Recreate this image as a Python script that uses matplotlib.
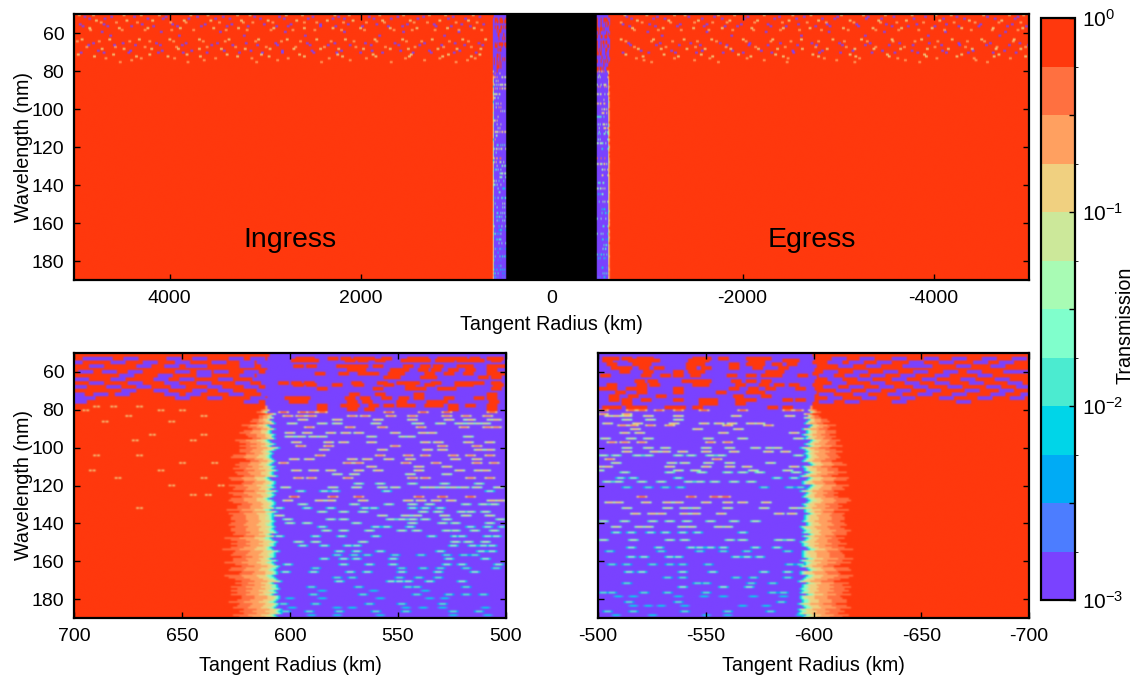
"""Ingress / egress transmission maps, tangent radius vs wavelength."""

import numpy as np
import matplotlib
matplotlib.use('Agg')
import matplotlib.pyplot as plt
from matplotlib.colors import BoundaryNorm, ListedColormap

plt.rcParams['font.family'] = ['Liberation Sans', 'DejaVu Sans']
plt.rcParams['mathtext.fontset'] = 'custom'
plt.rcParams['mathtext.rm'] = 'Liberation Sans'
plt.rcParams['mathtext.it'] = 'Liberation Sans'
plt.rcParams['mathtext.default'] = 'regular'
plt.rcParams['axes.unicode_minus'] = False

colors = ['#7A42FF', '#4C7DFF', '#00ABF5', '#00D5E8', '#4BEBD0', '#80FFCC',
          '#A8FBB4', '#CCE89A', '#F0D080', '#FFA060', '#FF7040', '#FF380D']
log_bounds = [-3, -2.75, -2.5, -2.25, -2, -1.75, -1.5, -1.25, -1, -0.75, -0.5, -0.25, 0]
wave_ticks = [60, 80, 100, 120, 140, 160, 180]

# limb edge per 2 nm row, 50..190 nm (purple inside edge, red beyond outer)
ing_edge = [610, 611, 610, 612, 611, 610, 612, 611, 610, 611, 612, 611, 612,
            612, 611, 610, 609, 609, 608, 609, 609, 608, 608, 609, 608, 607, 609, 608, 609,
            608, 608, 607, 608, 609, 608, 607, 608, 608, 609, 607, 608, 608, 607, 608, 609,
            607, 608, 607, 608, 608, 607, 608, 607, 607, 608, 607, 607, 606, 607, 607, 606,
            607, 606, 606, 607, 606, 606, 606, 605, 606, 606]
ing_outer = [610, 611, 610, 612, 611, 610, 612, 611, 610, 611, 612, 611, 612,
             612, 612, 613, 615, 616, 618, 620, 621, 622, 620, 623, 622, 624, 623, 625, 622,
             624, 626, 623, 625, 627, 624, 626, 625, 628, 625, 627, 624, 628, 626, 627, 629,
             626, 628, 627, 625, 628, 627, 626, 629, 627, 625, 628, 626, 627, 625, 628, 626,
             624, 627, 625, 626, 624, 626, 625, 623, 625, 624]
egr_edge = [-600, -601, -600, -602, -601, -600, -602, -601, -600, -601, -602, -601, -601,
            -600, -599, -598, -598, -597, -597, -598, -597, -596, -597, -598, -597, -596, -597, -596,
            -597, -598, -596, -597, -596, -597, -596, -598, -596, -597, -596, -597, -596, -595, -597,
            -596, -597, -596, -595, -596, -597, -596, -595, -596, -597, -595, -596, -595, -596, -597,
            -595, -596, -595, -596, -595, -594, -596, -595, -594, -595, -594, -595, -595]
egr_outer = [-600, -601, -600, -602, -601, -600, -602, -601, -600, -601, -602, -601, -601,
             -600, -600, -601, -603, -605, -607, -608, -610, -609, -611, -610, -612, -611, -613, -610,
             -612, -614, -611, -613, -612, -615, -612, -614, -613, -611, -614, -616, -613, -615, -612,
             -614, -616, -613, -615, -617, -614, -612, -615, -613, -616, -614, -617, -615, -613, -616,
             -614, -616, -613, -615, -617, -614, -616, -615, -613, -616, -614, -615, -614]
# row by row wobble of the limb, 50..190 nm
row_jag = [0, 1, -1, 2, 0, -2, 1, 3, -1, 0, 2, -3, 1, -1, 0, 2, -2, 3, 1, -1, -3, 2, 0, 1, -2, 3, -1, 0,
           2, -2, 1, 3, -3, 0, -1, 2, 1, -2, 3, 0, -3, 1, 2, -1, 0, -2, 3, 1, -1, 2, -3, 0, 1, -2, 2,
           3, -1, -3, 0, 2, -2, 1, -1, 3, 0, -3, 2, 1, -2, -1, 3, 0, 2, -3, 1, -1, -2, 3, 2, 0, -1, 1,
           -3, 2, -2, 3, 0, 1, -1, -3, 2, 3, -2, 0, 1, -1, 2, -3, 3, 0, -2, 1, -1, 2, 3, -3, 0, 1, -2,
           2, -1, 3, 0, -3, 1, 2, -2, -1, 3, 1, 0, -3, 2, -1, 1, -2, 3, 0, 2, -3, -1, 1, 3, -2, 0, 2,
           -1, 1, -3, 2, 0]
band_stop = [0.06, 0.12, 0.18, 0.36, 0.66, 1.0]
band_level = [3, 5, 7, 8, 9, 10]

# speckles in the lower panels: row wavelength, colour level, radii
ing_spk_nm = [52, 53, 56, 58, 60, 62, 65, 66, 68, 71, 73, 75, 77, 79, 81, 83, 85, 87, 89, 92, 94, 97, 99,
              101, 104, 106, 108, 110, 112, 114, 116, 119, 121, 123, 126, 128, 130, 132, 134, 136, 138,
              140, 142, 144, 147, 150, 152, 155, 157, 159, 162, 164, 166, 169, 171, 174, 176, 178, 180,
              183, 185, 187, 189]
ing_spk_lvl = [11, 11, 11, 11, 11, 11, 11, 11, 11, 11, 11, 11, 11, 11, 10, 9, 8, 7, 9, 8, 7, 8, 9,
               8, 9, 8, 9, 8, 8, 7, 9, 6, 7, 5, 10, 8, 6, 5, 6, 7, 6, 6, 5, 6, 5, 6, 5, 5, 4, 5, 5, 4,
               5, 4, 5, 4, 3, 4, 3, 4, 3, 4, 3]
ing_spk_km = [
    [595, 591, 580, 574, 568, 563, 555, 543, 538, 529, 524, 520, 514, 506, 503],
    [597, 592, 589, 572, 566, 558, 546, 541, 537, 530, 526, 520, 516, 512, 504],
    [596, 590, 576, 571, 566, 559, 545, 537, 531, 520, 517, 506, 502],
    [571, 567, 551, 547, 538, 532, 524, 516, 506],
    [586, 575, 566, 561, 552, 549, 535, 526, 517, 506, 502],
    [554, 551, 537, 534, 510, 504],
    [603, 597, 591, 569, 557, 548, 545, 542, 532, 521, 517, 512, 504],
    [596, 590, 578, 568, 554, 544, 535, 521, 517, 503],
    [585, 559, 544, 539, 529, 525, 504],
    [570, 558, 540, 506],
    [601, 597, 593, 572, 565, 555, 547, 540, 526, 512, 506],
    [600, 595, 594, 571, 564, 548, 534, 529, 505],
    [585, 574, 570, 561, 554, 548, 544, 535, 531, 524, 516, 506],
    [585, 571, 563, 524, 506],
    [603, 594, 590, 585, 554, 538, 527, 506],
    [601, 595, 590, 571, 565, 553, 543, 527, 518, 508],
    [594, 578, 559, 543, 526, 517, 516, 506, 504],
    [599, 585, 578, 560, 541, 540, 530, 521, 516, 512, 509],
    [591, 572, 557, 539, 519, 508, 504],
    [600, 592, 581, 574, 568, 551, 538, 534],
    [600, 595, 589, 585, 562, 547, 544, 517],
    [597, 582, 575, 562, 537, 531, 517, 507],
    [595, 582, 551, 529, 513],
    [584, 557, 536, 529, 512, 507],
    [586, 558, 545, 537, 524, 516, 507],
    [598, 591, 571, 564, 554, 544, 523, 513],
    [603, 573, 568, 546, 532, 513, 505],
    [562, 540, 527],
    [597, 589, 581, 568, 559, 540, 521, 512, 509],
    [578, 570, 544, 527],
    [596, 590, 573, 543, 537, 516, 507],
    [568, 558, 543, 528, 512],
    [602, 580, 569, 557, 551, 537, 534, 529, 524, 519, 513, 503],
    [595, 584, 579, 555, 507],
    [598, 580, 568, 540, 529, 516],
    [601, 586, 581, 566, 545, 539, 532, 525, 506, 502],
    [594, 570, 554, 543, 535, 518, 510, 505],
    [605, 592, 581, 565, 561, 543, 537, 530],
    [585, 575, 566, 538, 531, 520, 516, 509],
    [605, 557, 546, 541, 528, 518, 507],
    [601, 581, 575, 553, 548, 543, 537, 527, 502],
    [600, 592, 569, 543, 529, 523, 507],
    [585, 560, 555, 544, 516, 508, 501],
    [583, 575, 563, 548, 541, 527, 523, 514, 505],
    [605, 588, 576, 560, 534, 523, 520, 508, 504],
    [596, 588, 566, 523, 517, 509],
    [594, 584, 573, 569, 524, 515, 510, 506],
    [577, 569, 558, 530, 511, 506],
    [578, 570, 564, 551, 539, 527, 519, 514],
    [584, 575, 569, 552, 526, 509],
    [601, 575, 563, 552, 527, 520, 503],
    [588, 548, 538, 530, 518, 504],
    [602, 589, 572, 564, 548, 531, 514],
    [578, 571, 549, 540, 531],
    [577, 553, 549, 545, 535, 520],
    [590, 568, 545, 541, 518],
    [585, 561, 537],
    [589, 566, 541, 526, 518, 510],
    [600, 585, 558, 535, 528],
    [603, 588, 563, 548, 529],
    [599, 578, 571, 546, 538, 529, 509],
    [602, 591, 577, 560, 546, 524, 512],
    [590, 578, 558, 524, 508],
]
egr_spk_nm = [52, 53, 55, 57, 59, 61, 64, 66, 68, 70, 72, 74, 76, 78, 80, 82, 83, 85, 87, 88, 90, 92, 95, 97,
              100, 102, 104, 106, 108, 110, 112, 113, 116, 118, 121, 126, 129, 132, 135, 139, 142, 145, 149,
              153, 155, 158, 162, 166, 169, 172, 174, 177, 179, 182, 184, 187, 189]
egr_spk_lvl = [11, 11, 11, 11, 11, 11, 11, 11, 11, 11, 11, 11, 11, 11, 10, 9, 8, 7, 8, 9, 8, 8, 7, 9,
               7, 8, 6, 9, 7, 8, 7, 6, 5, 6, 4, 10, 8, 7, 8, 6, 7, 5, 6, 5, 4, 5, 4, 5, 4, 4, 5, 4, 3,
               4, 3, 4, 3]
egr_spk_km = [
    [-504, -507, -513, -520, -523, -546, -550, -558, -571, -574, -578],
    [-504, -516, -521, -526, -544, -549, -572, -575, -588, -591],
    [-506, -518, -522, -543, -547, -563, -571, -575, -583, -590],
    [-508, -513, -521, -528, -543, -550, -563, -574, -586],
    [-512, -523, -537, -544, -547, -580, -584],
    [-503, -522, -531, -537, -545, -562, -571, -578, -583, -595],
    [-519, -525, -541, -546, -550, -564, -571, -578],
    [-506, -520, -526, -546, -549, -566, -577, -584, -591],
    [-502, -506, -515, -520, -537, -563, -572, -580, -594],
    [-510, -520, -537, -557, -571, -575],
    [-507, -516, -529, -565, -578],
    [-507, -513, -522, -537, -549, -553, -566, -571, -588, -594],
    [-513, -549, -553, -566],
    [-504, -508, -515, -520, -533, -538, -546, -581, -588],
    [-502, -515, -520, -528, -537, -549, -567, -588, -593],
    [-502, -513],
    [-505, -508, -513, -523, -537, -564, -589],
    [-513, -524, -537],
    [-504, -518, -535, -549, -556, -562, -571, -575],
    [-511, -516, -524, -533, -560, -579],
    [-517, -546, -565],
    [-512, -519, -558, -591],
    [-503, -515, -523, -551, -567, -593],
    [-506, -512, -520, -552, -560],
    [-513, -523, -531, -550, -561, -573, -580, -583],
    [-513, -526, -531, -539, -550, -563, -579, -587],
    [-502, -508, -518, -523, -537, -543, -557, -552, -593],
    [-505, -555],
    [-508, -534, -540, -551, -561, -580],
    [-501, -504, -533, -550, -561, -569, -591],
    [-500, -537, -545, -572, -588],
    [-512, -533, -548, -560, -567, -575, -592],
    [-510, -516, -537, -583, -591],
    [-504, -509, -520, -529, -542, -547, -554, -563, -571],
    [-513, -523, -531, -538, -577, -589, -594],
    [-520, -543, -554, -559],
    [-505, -509, -522, -532, -537, -550, -560, -567, -578],
    [-513, -532, -540, -545, -560, -577, -591],
    [-517, -525, -529, -540, -545, -557, -584, -590],
    [-502, -512, -525, -533, -541, -552, -563, -573],
    [-508, -519, -523, -539, -543, -556, -560],
    [-508, -515, -524, -531, -539, -546, -567],
    [-502, -516, -533, -540, -561, -567, -584, -589],
    [-515, -528, -543, -547, -552, -558, -573, -583],
    [-505, -529, -547, -558, -569, -588],
    [-515, -521, -533, -537, -564, -575, -569],
    [-506, -513, -525, -533, -539, -551, -589, -594],
    [-514, -520, -539, -553, -577, -588],
    [-532, -539, -564, -572, -588],
    [-513, -546, -550, -571, -581],
    [-539, -558, -570],
    [-502, -506, -521, -532, -550, -581, -586],
    [-509, -516, -537, -549, -558, -572, -586],
    [-514, -537, -585],
    [-516, -529, -540, -523, -567, -578],
    [-504, -516, -540, -560, -580],
    [-508, -525, -550, -560, -594],
]

# purple gaps in the red part above 76 nm
gap_nm = [52, 54, 56, 59, 61, 63, 65, 67, 69, 71, 73, 75]
ing_gap_km = [
    [693, 686, 674, 654, 642, 625, 615], [700, 680, 665, 650, 633, 620, 612],
    [690, 668, 655, 645, 642, 620, 610], [695, 684, 672, 650, 640, 632, 618, 608],
    [676, 658, 640, 620, 612, 606], [697, 680, 660, 648, 630, 614, 606],
    [690, 672, 655, 640, 622, 610], [698, 682, 668, 652, 635, 618, 608],
    [675, 660, 642, 630, 612], [699, 688, 678, 655, 645, 625, 610],
    [699, 694, 650, 635, 615, 606], [698, 618, 604],
]
egr_gap_km = [
    [-612, -625, -640, -655, -668, -682, -696], [-610, -620, -633, -648, -662, -678, -690],
    [-615, -628, -645, -652, -670, -686], [-608, -622, -636, -650, -664, -675, -692, -699],
    [-606, -618, -630, -644, -660, -680], [-610, -624, -640, -654, -672, -688],
    [-612, -630, -646, -660, -676, -694], [-608, -620, -634, -650, -666, -684, -698],
    [-614, -628, -642, -656, -674, -690], [-606, -622, -638, -652, -668, -686, -700],
    [-610, -626, -644, -662, -680, -695], [-606, -618, -640, -670],
]

# faint dashes inside the red area of the ingress panel
faint_nm = [78, 80, 83, 86, 93, 96, 104, 108, 112, 116, 120, 125, 132]
faint_km = [[690, 682, 670], [695, 660, 650], [675, 640], [686, 655], [664, 640], [672, 645],
            [670, 690], [650, 635], [692, 660], [680, 640], [655, 632], [645, 638], [670]]

# dots above 76 nm in the wide panel
dot_nm = [51, 53, 55, 57, 59, 63, 65, 67, 69, 71, 73, 75,
          50, 52, 54, 56, 58, 61, 64, 66, 68, 70, 72, 74]
dot_lvl = [0, 8, 0, 8, 0, 8, 0, 9, 0, 8, 9, 9,
           8, 0, 9, 0, 9, 0, 9, 0, 8, 0, 8, 9]
dot_km = [
    [4900, 4620, 4380, 4050, 3720, 3450, 3120, 2860, 2510, 2240, 1920, 1620, 1350, 1040, 760,
     -780, -1100, -1430, -1700, -2050, -2380, -2640, -2990, -3310, -3580, -3910, -4240, -4560, -4880],
    [4780, 4460, 4190, 3860, 3580, 3260, 2980, 2680, 2360, 2090, 1780, 1490, 1180, 880,
     -890, -1220, -1530, -1860, -2150, -2480, -2790, -3120, -3420, -3710, -4060, -4370, -4710],
    [4950, 4700, 4300, 3980, 3640, 3360, 3020, 2740, 2430, 2140, 1840, 1520, 1240, 950, 720,
     -740, -1020, -1340, -1620, -1980, -2260, -2580, -2880, -3190, -3500, -3820, -4130, -4490, -4820],
    [4850, 4540, 4240, 3900, 3550, 3290, 2920, 2600, 2300, 2010, 1700, 1420, 1100, 820,
     -840, -1160, -1480, -1780, -2090, -2420, -2700, -3050, -3360, -3660, -3980, -4290, -4620, -4930],
    [4720, 4100, 3480, 2800, 2180, 1560, 980, -1000, -1620, -2240, -2900, -3480, -4120, -4750],
    [4930, 4640, 4330, 4010, 3700, 3390, 3080, 2780, 2470, 2170, 1860, 1570, 1260, 940, 700,
     -720, -1060, -1380, -1670, -2000, -2310, -2610, -2940, -3240, -3560, -3870, -4190, -4500, -4840],
    [4810, 4500, 4150, 3840, 3510, 3210, 2900, 2570, 2280, 1960, 1650, 1340, 1020, 770,
     -800, -1130, -1450, -1760, -2070, -2390, -2720, -3010, -3330, -3640, -3950, -4260, -4590, -4900],
    [4880, 4580, 4270, 3940, 3620, 3320, 3000, 2690, 2390, 2060, 1750, 1440, 1140, 850,
     -860, -1190, -1500, -1820, -2130, -2440, -2760, -3080, -3390, -3690, -4010, -4330, -4660, -4960],
    [4760, 4420, 4090, 3780, 3440, 3160, 2830, 2520, 2210, 1890, 1590, 1290, 970,
     -930, -1250, -1570, -1890, -2190, -2520, -2830, -3150, -3460, -3770, -4090, -4410, -4740],
    [4970, 4600, 4220, 3830, 3410, 3050, 2650, 2250, 1880, 1480, 1090, 760,
     -770, -1170, -1560, -1950, -2340, -2730, -3120, -3510, -3900, -4290, -4680],
    [4680, 4310, 3960, 3530, 3150, 2770, 2340, 1950, 1540, 1180, 810,
     -880, -1280, -1650, -2040, -2470, -2850, -3220, -3620, -4030, -4420, -4800],
    [4530, 3820, 3100, 2420, 1690, 1010, -1040, -1740, -2460, -3170, -3850, -4560],
    [4960, 4810, 4490, 4310, 4120, 3790, 3610, 3300, 3170, 2790, 2620, 2280, 2130, 1810, 1560, 1290, 1120, 830,
     -760, -990, -1280, -1390, -1740, -1910, -2220, -2520, -2710, -3030, -3260, -3490, -3770, -4020, -4180, -4520, -4790, -4940],
    [4850, 4690, 4240, 4080, 3810, 3530, 3380, 3060, 2810, 2560, 2300, 2180, 1870, 1690, 1410, 1090, 910,
     -830, -1060, -1180, -1570, -1780, -2010, -2330, -2560, -2830, -2960, -3290, -3450, -3790, -4100, -4320, -4640, -4850],
    [4730, 4570, 4350, 4000, 3840, 3490, 3240, 3140, 2930, 2600, 2470, 2190, 1950, 1760, 1450, 1310, 1010, 790,
     -720, -940, -1240, -1490, -1680, -1830, -2120, -2410, -2670, -2870, -3160, -3440, -3610, -3890, -4210, -4430, -4680, -4910],
    [4920, 4660, 4410, 4180, 3930, 3680, 3410, 3190, 2890, 2770, 2430, 2270, 1990, 1720, 1570, 1220, 1060, 860,
     -810, -1080, -1310, -1590, -1810, -1940, -2290, -2450, -2760, -2910, -3210, -3560, -3730, -4010, -4260, -4470, -4770, -4970],
    [4840, 4510, 4270, 3990, 3760, 3420, 3200, 2950, 2720, 2490, 2210, 1970, 1660, 1470, 1230, 980, 740,
     -860, -1110, -1350, -1640, -1890, -2110, -2390, -2590, -2820, -3100, -3390, -3630, -3840, -4110, -4390, -4610, -4880],
    [4630, 3910, 3230, 2590, 1810, 1130, -1150, -1880, -2610, -3280, -3940, -4690],
    [4980, 4750, 4430, 4220, 3970, 3660, 3430, 3110, 2840, 2640, 2320, 2080, 1840, 1530, 1370, 1080, 880,
     -770, -1040, -1260, -1520, -1720, -2030, -2290, -2500, -2790, -3060, -3300, -3570, -3800, -4040, -4350, -4530, -4830],
    [4860, 4590, 4370, 4110, 3880, 3570, 3350, 3090, 2880, 2540, 2350, 2120, 1900, 1610, 1390, 1160, 920, 730,
     -820, -1090, -1330, -1550, -1830, -2060, -2260, -2570, -2770, -3040, -3280, -3530, -3780, -4080, -4270, -4550, -4790, -4990],
    [4720, 4490, 4200, 3920, 3700, 3470, 3220, 2960, 2710, 2430, 2240, 1980, 1700, 1510, 1200, 1000, 750,
     -900, -1140, -1410, -1600, -1870, -2160, -2360, -2620, -2880, -3170, -3370, -3650, -3930, -4150, -4400, -4650, -4910],
    [4940, 4700, 4440, 4130, 3870, 3620, 3280, 3040, 2830, 2500, 2260, 2010, 1780, 1460, 1270, 1030, 800,
     -740, -1010, -1290, -1510, -1790, -2000, -2300, -2530, -2800, -3020, -3350, -3590, -3830, -4130, -4360, -4620, -4860],
    [4800, 4360, 4030, 3690, 3300, 2970, 2600, 2200, 1850, 1500, 1150, 850,
     -950, -1320, -1680, -2080, -2420, -2790, -3180, -3530, -3920, -4240, -4630, -4960],
    [4410, 3650, 2880, 2120, 1340, 890, -960, -1490, -2220, -2980, -3700, -4440],
]

nm_axis = np.arange(50, 191)
radius_axis = np.arange(500, 701)
wide_axis = np.arange(5000, -5001, -10)


def level_value(level):
    return (log_bounds[level] + log_bounds[level + 1]) / 2


def paint_dashes(grid, rows_nm, levels, rows_km, half_width=2, height=1):
    for nm, level, row_km in zip(rows_nm, levels, rows_km):
        for km in row_km:
            i0 = max(abs(km) - 500 - half_width, 0)
            i1 = min(abs(km) - 500 + half_width + 1, 201)
            if 0 < level < 11:
                grid[nm - 50, i0:i1] = level_value(max(level - 2, 1))
                grid[nm - 50, i0 + 1:i1 - 1] = level_value(level)
            else:
                grid[nm - 50:nm - 50 + height, i0:i1] = level_value(level)


def limb_grid(edge, outer, spk_nm, spk_lvl, spk_km, gap_km):
    grid = np.full((len(nm_axis), len(radius_axis)), level_value(0))
    for i, nm in enumerate(nm_axis):
        e = abs(edge[(nm - 50) // 2])
        o = abs(outer[(nm - 50) // 2])
        if nm >= 80:
            e += row_jag[i] // 2
            o += row_jag[i]
        grid[i, o - 500:] = level_value(11)
        for j in range(e, o):
            frac = (j - e + 0.5) / (o - e)
            k = next(n for n, stop in enumerate(band_stop) if frac <= stop)
            grid[i, j - 500] = level_value(band_level[k])
    paint_dashes(grid, spk_nm, spk_lvl, spk_km, height=2)
    paint_dashes(grid, gap_nm, [0] * len(gap_nm), gap_km, half_width=3, height=2)
    return grid


ing_grid = limb_grid(ing_edge, ing_outer, ing_spk_nm, ing_spk_lvl, ing_spk_km, ing_gap_km)
egr_grid = limb_grid(egr_edge, egr_outer, egr_spk_nm, egr_spk_lvl, egr_spk_km, egr_gap_km)
paint_dashes(ing_grid, faint_nm, [10] * len(faint_nm), faint_km, half_width=1)

wide_grid = np.full((len(nm_axis), len(wide_axis)), level_value(11))
for nm, level, row_km in zip(dot_nm, dot_lvl, dot_km):
    for km in row_km:
        i = int((5000 - km) / 10)
        wide_grid[nm - 50, i:i + 3] = level_value(level)
for j, km in enumerate(wide_axis):
    r = abs(km)
    if r < 480:
        wide_grid[:, j] = np.nan
    elif r < 620:
        source = ing_grid if km > 0 else egr_grid
        col = r - 500 if r >= 500 else 500 - r
        wide_grid[:, j] = source[:, col]

cmap = ListedColormap(colors)
cmap.set_bad('black')
norm = BoundaryNorm(log_bounds, cmap.N)

fig = plt.figure(figsize=(11.35, 6.77), dpi=100)


def add_axes_px(x0, y0, x1, y1):
    return fig.add_axes([x0 / 1135, 1 - y1 / 677, (x1 - x0) / 1135, (y1 - y0) / 677])


def style_axes(ax, xticks, x_labelpad, show_ylabel=True):
    ax.set_xticks(xticks)
    ax.set_yticks(wave_ticks)
    ax.tick_params(direction='in', top=True, right=True, length=4, width=1,
                   labelsize=14, pad=7)
    ax.set_xlabel('Tangent Radius (km)', fontsize=14.2, labelpad=x_labelpad)
    if show_ylabel:
        ax.set_ylabel('Wavelength (nm)', fontsize=14.2, labelpad=-1)
    else:
        ax.set_yticklabels([])
    for spine in ax.spines.values():
        spine.set_linewidth(1.6)


def show(ax, grid, x_left, x_right):
    return ax.imshow(grid, cmap=cmap, norm=norm, aspect='auto', interpolation='gaussian',
                     interpolation_stage='rgba', extent=[x_left, x_right, 190, 50])


ax_top = add_axes_px(74, 14, 1029, 280)
im = show(ax_top, wide_grid, 5000, -5000)
style_axes(ax_top, [4000, 2000, 0, -2000, -4000], 6)
ax_top.text(2740, 169, 'Ingress', fontsize=20.5, ha='center', va='center')
ax_top.text(-2725, 169, 'Egress', fontsize=20.5, ha='center', va='center')

ax_ing = add_axes_px(74, 353, 506, 618)
show(ax_ing, ing_grid[:, ::-1], 700, 500)
style_axes(ax_ing, [700, 650, 600, 550, 500], 8)

ax_egr = add_axes_px(598, 353, 1029, 618)
show(ax_egr, egr_grid, -500, -700)
style_axes(ax_egr, [-500, -550, -600, -650, -700], 8, show_ylabel=False)

cax = add_axes_px(1041, 18, 1075, 600)
cbar = fig.colorbar(im, cax=cax, spacing='proportional',
                    ticks=[-3, -2.5, -2, -1.5, -1, -0.5, 0])
cbar.ax.set_yticklabels(['$10^{-3}$', '', '$10^{-2}$', '', '$10^{-1}$', '', '$10^{0}$'])
cbar.ax.tick_params(direction='in', length=4, width=1, labelsize=15, pad=5)
cbar.outline.set_linewidth(1.6)
cbar.set_label('Transmission', fontsize=14.2, labelpad=-6, y=0.4725)

fig.savefig('out.png', dpi=100)
plt.close(fig)
